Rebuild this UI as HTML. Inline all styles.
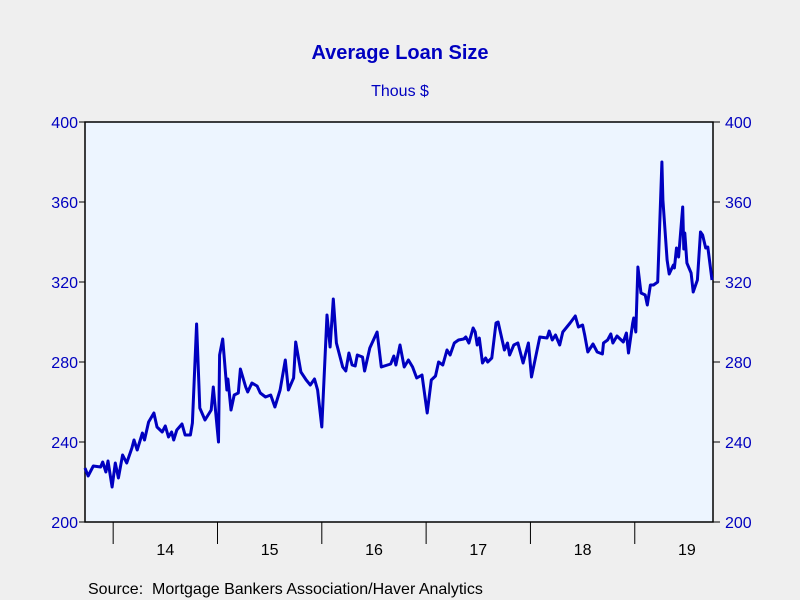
<!DOCTYPE html>
<html><head><meta charset="utf-8"><style>
body{margin:0;background:#efefef;}
svg{display:block;font-family:"Liberation Sans",Arial,sans-serif;}
</style></head><body>
<svg id="chart" width="800" height="600">
<rect x="0" y="0" width="800" height="600" fill="#efefef"/>
<text x="400" y="59" text-anchor="middle" font-size="20" font-weight="bold" fill="#0000c0">Average Loan Size</text>
<text x="400" y="96" text-anchor="middle" font-size="16" fill="#0000c0">Thous $</text>
<rect x="85" y="122" width="628" height="400" fill="#edf5ff" stroke="#000" stroke-width="1.5"/>
<g id="axes"></g>
<path id="line" fill="none" stroke="#0000c0" stroke-width="3" stroke-linejoin="round"/>
<text x="88" y="594" font-size="16" fill="#000">Source:&#160; Mortgage Bankers Association/Haver Analytics</text>
</svg>
<script>
const yTicks=[200,240,280,320,360,400];
const years=[2014,2015,2016,2017,2018,2019];
const yearLabels=["14","15","16","17","18","19"];
const t=[2013.73,2013.76,2013.81,2013.88,2013.90,2013.93,2013.95,2013.99,2014.02,2014.05,2014.09,2014.13,2014.18,2014.20,2014.23,2014.28,2014.30,2014.34,2014.39,2014.42,2014.47,2014.50,2014.53,2014.56,2014.58,2014.61,2014.66,2014.69,2014.74,2014.76,2014.80,2014.83,2014.88,2014.94,2014.96,2015.01,2015.02,2015.05,2015.09,2015.10,2015.13,2015.16,2015.20,2015.22,2015.27,2015.29,2015.33,2015.38,2015.41,2015.46,2015.51,2015.55,2015.60,2015.65,2015.68,2015.73,2015.75,2015.80,2015.85,2015.89,2015.93,2015.96,2016.00,2016.05,2016.08,2016.11,2016.14,2016.20,2016.23,2016.26,2016.29,2016.32,2016.34,2016.39,2016.41,2016.46,2016.53,2016.57,2016.63,2016.66,2016.69,2016.71,2016.75,2016.79,2016.83,2016.87,2016.91,2016.96,2017.01,2017.05,2017.09,2017.12,2017.16,2017.20,2017.23,2017.27,2017.31,2017.36,2017.38,2017.41,2017.45,2017.47,2017.49,2017.51,2017.54,2017.57,2017.59,2017.63,2017.67,2017.69,2017.75,2017.78,2017.80,2017.84,2017.88,2017.93,2017.98,2018.01,2018.09,2018.16,2018.18,2018.21,2018.24,2018.28,2018.31,2018.38,2018.43,2018.46,2018.50,2018.52,2018.55,2018.60,2018.64,2018.69,2018.70,2018.74,2018.77,2018.79,2018.83,2018.89,2018.92,2018.94,2018.98,2018.99,2019.01,2019.03,2019.06,2019.10,2019.12,2019.15,2019.18,2019.22,2019.26,2019.27,2019.31,2019.33,2019.37,2019.38,2019.40,2019.42,2019.46,2019.47,2019.48,2019.50,2019.54,2019.56,2019.60,2019.63,2019.65,2019.68,2019.70,2019.74];
const values=[227,223,228,227.5,230,225,230.5,217.5,229.5,222,233.5,229.5,237,241,236,244.5,241,250,254.5,247.5,245,248,242.5,245,241,246,249,243.5,243.5,249.5,299,257,251,256,267.5,240,283.5,291.5,266,271.5,256,263.5,264.5,276.5,267.5,265,269.5,268,264.5,262.5,263.5,257.5,266,281,266,272,290,275,271,268.5,271.5,266,247.5,303.5,287.5,311.5,289.5,277.5,275.5,284.5,278.5,278,283.5,282.5,275.5,287,295,277.5,278.5,279,283,278.5,288.5,277.5,281,277.5,272,273.5,254.5,271,273,280,278.5,286,283.5,289.5,291,291.5,292.5,289.5,297,295,288.5,292,279.5,282,280,282,299.5,300,286,289.5,283.5,288.5,289.5,279.5,289.5,272.5,292.5,292,295.5,291,293.5,288.5,295,299.5,303,297.5,298.5,293.5,285,289,285,284,289.5,291,294,289.5,293,290,294.5,284.5,299.5,302,295,327.5,314.5,313.5,308.5,318.5,318.5,320,380,361,331,324,328.5,327,337,332.5,357.5,336.5,344.5,329.5,324.5,315,321,345,343.5,337,337.5,321];
const X0=85,X1=713,Y0=522,Y1=122,T0=2013.73,T1=2019.75;
const xs=v=>X0+(v-T0)/(T1-T0)*(X1-X0);
const ys=v=>Y0-(v-200)/200*(Y0-Y1);
const NS="http://www.w3.org/2000/svg";
const ax=document.getElementById('axes');
function mk(tag,attrs,txt){const e=document.createElementNS(NS,tag);for(const k in attrs)e.setAttribute(k,attrs[k]);if(txt!==undefined)e.textContent=txt;ax.appendChild(e);return e;}
yTicks.forEach(v=>{
  const y=ys(v);
  let e=mk('line',{x1:X0-6,x2:X0,y1:y,y2:y,stroke:'#000'});
  
  
  e=mk('line',{x1:X1,x2:X1+7,y1:y,y2:y,stroke:'#000'});
  
  
  e=mk('text',{x:X0-7,y:y+6,'text-anchor':'end','font-size':16,fill:'#0000c0'},String(v));
  
  
  e=mk('text',{x:X1+12,y:y+6,'font-size':16,fill:'#0000c0'},String(v));
  
  
});
years.forEach((yr,i)=>{
  const x=xs(yr);
  let e=mk('line',{x1:x,x2:x,y1:Y0,y2:Y0+22,stroke:'#000'});
  
  
  e=mk('text',{x:xs(yr+0.5),y:555,'text-anchor':'middle','font-size':16,fill:'#000'},yearLabels[i]);
  
  
});
document.getElementById('line').setAttribute('d',t.map((v,i)=>(i?'L':'M')+xs(v).toFixed(1)+','+ys(values[i]).toFixed(1)).join(''));
</script>
</body></html>
